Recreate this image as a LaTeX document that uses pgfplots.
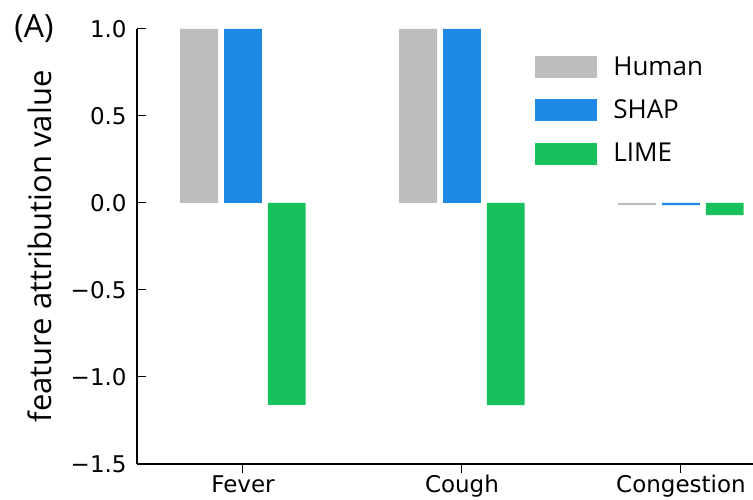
\documentclass[border=0pt]{standalone}
\usepackage{pgfplots}
\pgfplotsset{compat=1.18}
\usepackage{fontspec}
\setmainfont{Open Sans}
\newfontfamily\dejavu{DejaVu Sans}
\definecolor{cgray}{RGB}{189,189,189}
\definecolor{cblue}{RGB}{30,136,229}
\definecolor{cgreen}{RGB}{24,193,92}
\begin{document}
\begin{tikzpicture}
\begin{axis}[
  scale only axis, width=308pt, height=217.5pt,
  xmin=-0.484, xmax=2.329, ymin=-1.5, ymax=1.0,
  axis x line=bottom, axis y line=left,
  axis line style={-, line width=1pt, black},
  xtick={0,1,2}, xticklabels={Fever,Cough,Congestion},
  ytick={-1.5,-1,-0.5,0,0.5,1},
  yticklabels={−1.5,−1.0,−0.5,0.0,0.5,1.0},
  tick align=inside, major tick length=4.5pt,
  tick style={line width=0.5pt, black},
  ticklabel style={font=\dejavu\fontsize{11.5}{13}\selectfont},
  yticklabel style={anchor=east, inner sep=0pt, xshift=-5pt},
  xticklabel style={anchor=north, inner sep=0pt, yshift=-1pt},
  ybar, bar width=0.173,
  ylabel={feature attribution value},
  every axis y label/.style={at={(rel axis cs:-0.1575,0.5)}, rotate=90, anchor=center, font=\fontsize{15.5}{18}\selectfont},
  legend style={at={(rel axis cs:0.646,0.938)}, anchor=north west, draw=none, fill=none, inner sep=0pt, row sep=10.5pt, column sep=8pt, font=\fontsize{13}{15}\selectfont, nodes={inner sep=0pt}},
  legend cell align=left,
  clip=false,
]
\addplot[fill=cgray, draw=none, bar shift=-0.2, legend image code/.code={\fill[cgray] (0pt,-5.35pt) rectangle (31pt,5.65pt);}] coordinates {(0,1.0) (1,1.0) (2,-0.012)};
\addlegendentry{Human}
\addplot[fill=cblue, draw=none, bar shift=0, legend image code/.code={\fill[cblue] (0pt,-5.35pt) rectangle (31pt,5.65pt);}] coordinates {(0,1.0) (1,1.0) (2,-0.012)};
\addlegendentry{SHAP}
\addplot[fill=cgreen, draw=none, bar shift=0.2, legend image code/.code={\fill[cgreen] (0pt,-5.35pt) rectangle (31pt,5.65pt);}] coordinates {(0,-1.16) (1,-1.162) (2,-0.07)};
\addlegendentry{LIME}
\node[font=\fontsize{16}{18}\selectfont, inner sep=0pt, anchor=center] at (rel axis cs:-0.1672,1.002) {(A)};
\coordinate (bl) at (rel axis cs:0,0);
\coordinate (tr) at (rel axis cs:1,1);
\end{axis}
\pgfresetboundingbox
\path[use as bounding box] ([xshift=-68.5pt,yshift=-18pt]bl) rectangle ([yshift=14.5pt]tr);
\end{tikzpicture}
\end{document}
